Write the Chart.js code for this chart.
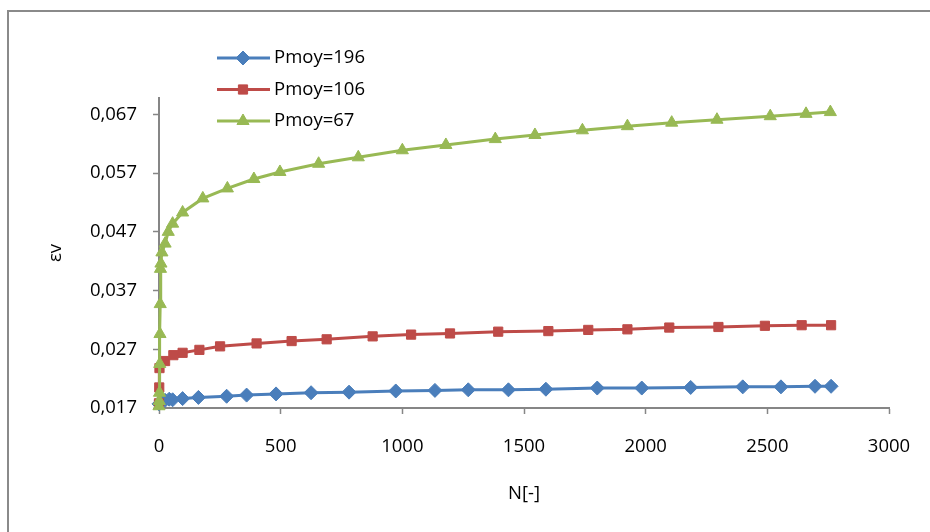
<!DOCTYPE html>
<html>
<head>
<meta charset="utf-8">
<script src="https://cdn.jsdelivr.net/npm/chart.js@4.4.1/dist/chart.umd.min.js"></script>
<style>
  html, body { margin: 0; padding: 0; background: #fff; overflow: hidden; }
</style>
</head>
<body>
<canvas id="evChart" width="930" height="532"></canvas>
<script>
// values
const n196 = [0, 8, 25, 42, 56, 97, 162, 278, 360, 481, 625, 781, 973, 1134, 1271, 1436, 1590, 1801, 1984, 2185, 2399, 2556, 2696, 2762];
const ev196 = [0.0177, 0.0182, 0.0183, 0.0185, 0.0184, 0.0186, 0.0188, 0.0190, 0.0192, 0.0194, 0.0196, 0.0197, 0.0199, 0.0200, 0.0201, 0.0201, 0.0202, 0.0204, 0.0204, 0.0205, 0.0206, 0.0206, 0.0207, 0.0207];

const n106 = [0, 1, 2, 25, 59, 97, 166, 251, 401, 545, 689, 878, 1036, 1196, 1394, 1600, 1764, 1925, 2097, 2299, 2490, 2641, 2762];
const ev106 = [0.0178, 0.0205, 0.0238, 0.0250, 0.0260, 0.0264, 0.0269, 0.0275, 0.0280, 0.0284, 0.0287, 0.0292, 0.0295, 0.0297, 0.0300, 0.0301, 0.0303, 0.0304, 0.0307, 0.0308, 0.0310, 0.0311, 0.0311];

const n67 = [0, 1, 2, 3, 4, 5, 6, 8, 12, 25, 38, 56, 97, 180, 281, 390, 497, 656, 819, 1000, 1179, 1382, 1545, 1740, 1925, 2107, 2293, 2512, 2659, 2759];
const ev67 = [0.0173, 0.0182, 0.0196, 0.0245, 0.0296, 0.0347, 0.0407, 0.0416, 0.0435, 0.0450, 0.0470, 0.0484, 0.0503, 0.0527, 0.0544, 0.0560, 0.0572, 0.0586, 0.0597, 0.0609, 0.0618, 0.0628, 0.0635, 0.0643, 0.0650, 0.0656, 0.0661, 0.0667, 0.0671, 0.0674];

const seriesLabels = ['Pmoy=196', 'Pmoy=106', 'Pmoy=67'];
const xTicks = [0, 500, 1000, 1500, 2000, 2500, 3000];
const yTicks = [0.017, 0.027, 0.037, 0.047, 0.057, 0.067];

const fontFamily = '"Open Sans", "DejaVu Sans", sans-serif';
const axisGray = '#868686';

function toPoints(xs, ys) {
    return xs.map((x, i) => ({ x: x, y: ys[i] }));
}

function makeSeries(label, xs, ys, color, style, order) {
    return {
        label: label,
        data: toPoints(xs, ys),
        borderColor: color,
        backgroundColor: color,
        pointBackgroundColor: color,
        pointBorderColor: color,
        pointBorderWidth: 1,
        pointStyle: style,
        pointRadius: style === 'rect' ? 6.5 : 7,
        pointHoverRadius: 7,
        borderWidth: 3,
        tension: 0,
        clip: false,
        order: order
    };
}

// white background and the grey frame of the chart object
const framePlugin = {
    id: 'frame',
    beforeDraw(chart) {
        const ctx = chart.ctx;
        ctx.save();
        ctx.fillStyle = '#fff';
        ctx.fillRect(0, 0, chart.width, chart.height);
        ctx.strokeStyle = '#8a8a8a';
        ctx.lineWidth = 2;
        ctx.beginPath();
        ctx.moveTo(8, chart.height);
        ctx.lineTo(8, 11);
        ctx.lineTo(chart.width, 11);
        ctx.stroke();
        ctx.restore();
    }
};

// excel style legend: line with marker in the middle
const legendPlugin = {
    id: 'excelLegend',
    afterDraw(chart) {
        const ctx = chart.ctx;
        chart.data.datasets.forEach((ds, i) => {
            const y = 58 + i * 31.5;
            ctx.save();
            ctx.strokeStyle = ds.borderColor;
            ctx.lineWidth = 3;
            ctx.beginPath();
            ctx.moveTo(217, y);
            ctx.lineTo(270, y);
            ctx.stroke();
            ctx.fillStyle = ds.pointBackgroundColor;
            ctx.strokeStyle = ds.pointBorderColor;
            ctx.lineWidth = 1;
            Chart.helpers.drawPoint(ctx, { pointStyle: ds.pointStyle, radius: ds.pointRadius, borderWidth: 1, rotation: 0 }, 243, y);
            ctx.fillStyle = '#000';
            ctx.font = '18.5px ' + fontFamily;
            ctx.textAlign = 'left';
            ctx.textBaseline = 'middle';
            ctx.fillText(ds.label, 274, y);
            ctx.restore();
        });
    }
};

const ctx = document.getElementById('evChart').getContext('2d');
new Chart(ctx, {
    type: 'line',
    data: {
        datasets: [
            makeSeries(seriesLabels[0], n196, ev196, '#4A7EBB', 'rectRot', 3),
            makeSeries(seriesLabels[1], n106, ev106, '#BE4B48', 'rect', 2),
            makeSeries(seriesLabels[2], n67, ev67, '#98B954', 'triangle', 1)
        ]
    },
    options: {
        responsive: false,
        animation: false,
        events: [],
        layout: { padding: { left: 40, top: 98, right: 41, bottom: 24 } },
        plugins: {
            legend: { display: false },
            tooltip: { enabled: false }
        },
        scales: {
            x: {
                type: 'linear',
                min: 0,
                max: 3000,
                afterBuildTicks: s => { s.ticks = xTicks.map(v => ({ value: v })); },
                afterFit: s => { s.height = 100; s.paddingLeft = 0; s.paddingRight = 0; },
                grid: { drawOnChartArea: false, drawTicks: true, tickLength: 6, tickWidth: 1.5, color: axisGray },
                border: { color: axisGray, width: 2 },
                ticks: { color: '#000', font: { family: fontFamily, size: 18.5 }, padding: 22, maxRotation: 0, callback: v => String(v) },
                title: { display: true, text: 'N[-]', color: '#000', font: { family: fontFamily, size: 18.5 }, padding: { top: 0, bottom: 3 } }
            },
            y: {
                type: 'linear',
                min: 0.017,
                max: 0.0698,
                afterBuildTicks: s => { s.ticks = yTicks.map(v => ({ value: v })); },
                afterFit: s => { s.width = 119; s.paddingTop = 0; s.paddingBottom = 0; },
                grid: { drawOnChartArea: false, drawTicks: true, tickLength: 6, tickWidth: 1.5, color: axisGray },
                border: { color: axisGray, width: 2 },
                ticks: {
                    color: '#000',
                    font: { family: fontFamily, size: 18.5 },
                    padding: 16,
                    callback: v => v.toFixed(3).replace('.', ',')
                },
                title: { display: true, text: 'εv', color: '#000', font: { family: fontFamily, size: 18.5 }, padding: { top: 5, bottom: 0 } }
            }
        }
    },
    plugins: [framePlugin, legendPlugin]
});
</script>
</body>
</html>
